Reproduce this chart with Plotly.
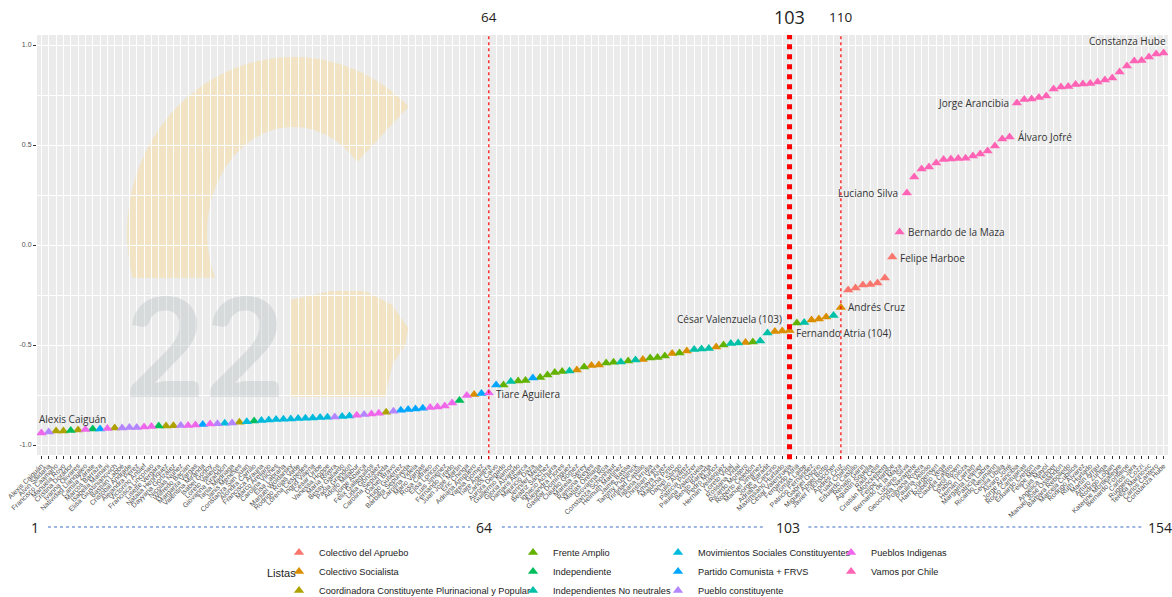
import math
import plotly.graph_objects as go

# ---------------- data ----------------
names = [
    "Alexis Caiguán", "Alvin Saldaña", "Francisco Caamaño", "Manuela Royo", "Cristina Dorador",
    "Ivanna Olivares", "Natividad Llanquileo", "Camila Zárate", "Marcos Barraza", "Isabella Mamani",
    "Elisa Giustinianovich", "Bastián Labbé", "Cristóbal Andrade", "Alejandra Pérez", "Victorino Antilef",
    "Francisca Linconao", "Lisette Vergara", "Natalia Henríquez", "Dayyana González", "Nicolás Núñez",
    "Wilfredo Bacian", "Margarita Vargas", "Valentina Miranda", "Isabel Godoy", "Loreto Vallejos",
    "Giovanna Grandón", "Tania Madriaga", "Janis Meneses", "Constanza San Juan", "Alondra Carrillo",
    "Francisca Arauna", "Marco Arellano", "Carolina Vilches", "Elsa Labraña", "Manuel Woldarsky",
    "Rodrigo Rojas Vade", "Lorena Céspedes", "Ingrid Villena", "César Uribe", "Vanessa Hoppe",
    "María Rivera", "Bessy Gallardo", "Paola Grandón", "Adolfo Millabur", "Jorge Abarca",
    "Félix Galleguillos", "Lidia González", "Carolina Sepúlveda", "Daniel Bravo", "Hugo Gutiérrez",
    "Bárbara Sepúlveda", "Carolina Videla", "Mario Vargas", "Rosa Catrileo", "Elisa Loncon",
    "Luis Jiménez", "Fernando Tirado", "Juan José Martin", "Eric Chinga", "Adriana Ampuero",
    "Yarela Gómez", "Tiare Aguilera",
    "Carlos Calvo", "Aurora Delgado", "Guillermo Namor", "Gloria Alvarado", "Damaris Abarca",
    "Mauricio Daza", "Jennifer Mella", "Beatriz Sánchez", "Ignacio Achurra", "Alejandra Flores",
    "Gaspar Domínguez", "Claudio Gómez", "Mariela Serey", "Ramona Reyes", "Matías Orellana",
    "Giovanna Roa", "Constanza Schonhaut", "Helmuth Martínez", "Jaime Bassa", "Tammy Pustilnick",
    "Trinidad Castillo", "Tatiana Urrutia", "Christian Viera", "Amaya Alvez", "Malucha Pinto",
    "Daniel Stingo", "Julio Álvarez", "Patricia Politzer", "Paulina Valenzuela", "Benito Baranda",
    "Pedro Muñoz", "Hernán Velásquez", "Loreto Vidal", "Rossana Vidal", "Ricardo Montero",
    "Roberto Celedón", "Manuel Jiménez", "Jorge Baradit", "Adriana Cancino", "Maximiliano Hurtado",
    "César Valenzuela",
    "Fernando Atria", "Tomás Laibe", "Patricio Fernández", "Gabriel Osorio", "Miguel Ángel Botto",
    "Javier Fuchslocher", "Andrés Cruz", "Fuad Chahín", "Eduardo Castillo", "Renato Garín",
    "Agustín Squella", "Raúl Celis", "Cristián Monckeberg", "Felipe Harboe", "Bernardo de la Maza",
    "Luciano Silva", "Geoconda Navarrete", "Pollyana Rivera", "Paulina Veloso", "Harry Jürgensen",
    "Roberto Vega", "Claudia Castro", "Carol Bown", "Pablo Toloza", "Hernán Larraín",
    "Margarita Letelier", "Patricia Labra", "Ricardo Neumann", "Cecilia Ubilla", "Álvaro Jofré",
    "Jorge Arancibia", "Rocío Cantuarias", "Eduardo Cretton", "Felipe Mena", "Luis Mayol",
    "Angélica Tepper", "Manuel José Ossandón", "Bárbara Rebolledo", "Marcela Cubillos", "Rodrigo Álvarez",
    "Ruth Hurtado", "Martín Arrau", "Arturo Zúñiga", "Rodrigo Logan", "Katerine Montealegre",
    "Bernardo Fontaine", "Carlos Jara", "Ruggero Cozzi", "Teresa Marinovic", "Carlos Cantero",
    "Constanza Hube",
]

ideal_points = [
    -0.94, -0.935, -0.93, -0.93, -0.928, -0.925, -0.922, -0.92, -0.92, -0.918,
    -0.915, -0.915, -0.913, -0.912, -0.91, -0.908, -0.905, -0.905, -0.904, -0.903,
    -0.902, -0.9, -0.897, -0.895, -0.894, -0.891, -0.89, -0.886, -0.884, -0.88,
    -0.877, -0.875, -0.873, -0.871, -0.87, -0.868, -0.866, -0.865, -0.863, -0.861,
    -0.86, -0.857, -0.855, -0.851, -0.847, -0.845, -0.841, -0.836, -0.831, -0.826,
    -0.822, -0.82, -0.816, -0.812, -0.81, -0.805, -0.79, -0.778, -0.752, -0.748,
    -0.743, -0.74,
    -0.70, -0.70, -0.682, -0.68, -0.678, -0.665, -0.663, -0.65, -0.637, -0.632,
    -0.63, -0.625, -0.61, -0.602, -0.60, -0.59, -0.586, -0.585, -0.58, -0.575,
    -0.573, -0.565, -0.562, -0.555, -0.542, -0.54, -0.53, -0.522, -0.52, -0.517,
    -0.51, -0.50, -0.492, -0.49, -0.487, -0.485, -0.48, -0.44, -0.432, -0.43,
    -0.428,
    -0.39, -0.388, -0.375, -0.37, -0.36, -0.352, -0.312, -0.225, -0.215, -0.20,
    -0.198, -0.19, -0.165, -0.06, 0.065, 0.26, 0.34, 0.38, 0.39, 0.41,
    0.428, 0.43, 0.432, 0.434, 0.445, 0.455, 0.47, 0.495, 0.53, 0.54,
    0.71, 0.728, 0.73, 0.738, 0.745, 0.78, 0.79, 0.792, 0.803, 0.805,
    0.807, 0.815, 0.825, 0.835, 0.865, 0.895, 0.92, 0.922, 0.94, 0.955,
    0.96,
]

codes = (
    "M P O O G O M G B M  O P P P M M G O O P  M M B M P C P O C G  "
    "C C C C C C C C C C  P C C M P M M O P B  B B B M M M M G M S  B M  "
    "B F T F F B F F F F  T S F S S F F T F T  S F F F S F S T T T  S F T T S F T T S S  S  "
    "F T S S S T S A A A  A A A A V V V V V V  V V V V V V V V V V  V V V V V V V V V V  "
    "V V V V V V V V V V  V"
).split()

list_names = {
    "A": "Colectivo del Apruebo",
    "S": "Colectivo Socialista",
    "O": "Coordinadora Constituyente Plurinacional y Popular",
    "F": "Frente Amplio",
    "G": "Independiente",
    "T": "Independientes No neutrales",
    "C": "Movimientos Sociales Constituyentes",
    "B": "Partido Comunista + FRVS",
    "P": "Pueblo constituyente",
    "M": "Pueblos Indigenas",
    "V": "Vamos por Chile",
}
list_order = ["A", "S", "O", "F", "G", "T", "C", "B", "P", "M", "V"]
list_colors = ["#F8766D", "#DB8E00", "#AEA200", "#64B200", "#00BD5C", "#00C1A7",
               "#00BADE", "#00A6FF", "#B385FF", "#EF67EB", "#FF63B6"]
legend_columns = ["legend", "legend", "legend", "legend2", "legend2", "legend2",
                  "legend3", "legend3", "legend3", "legend4", "legend4"]

labelled = {  # index -> (text, xanchor, xshift, yshift)
    1: ("Alexis Caiguán", "left", -4, 14),
    62: ("Tiare Aguilera", "left", 5, -1),
    103: ("César Valenzuela (103)", "right", -6, 12),
    104: ("Fernando Atria (104)", "left", -3, -10),
    110: ("Andrés Cruz", "left", 5, 0),
    117: ("Felipe Harboe", "left", 6, -1),
    118: ("Bernardo de la Maza", "left", 6, 0),
    119: ("Luciano Silva", "right", -7, 0),
    133: ("Álvaro Jofré", "left", 6, 0),
    134: ("Jorge Arancibia", "right", -6, 0),
    154: ("Constanza Hube", "right", 4, 12),
}
cut_lines = [62, 103, 110]
cut_labels = ["64", "103", "110"]
bottom_labels = ["1", "64", "103", "154"]

n = len(names)
assert n == len(ideal_points) == len(codes), (n, len(ideal_points), len(codes))
xs = list(range(1, n + 1))

fig = go.Figure()
for code, col, leg in zip(list_order, list_colors, legend_columns):
    idx = [i for i in range(n) if codes[i] == code]
    fig.add_trace(go.Scatter(
        x=[xs[i] for i in idx], y=[ideal_points[i] for i in idx],
        mode="markers", name=list_names[code], legend=leg,
        marker=dict(symbol="triangle-up", size=9, color=col, line=dict(width=0)),
        text=[names[i] for i in idx], hoverinfo="text+y",
    ))

# ---- watermark (C22 logo), px -> data helpers ----
def dx(px):
    return 1 + (px - 41.4) / 7.33

def dy(py):
    return (245 - py) / 200

cx, cy = 293, 233
pts = []
for k in range(61):
    t = math.radians(45.9 + (194.8 - 45.9) * k / 60)
    pts.append((cx + 166 * math.cos(t), cy - 176 * math.sin(t)))
for k in range(61):
    t = math.radians(205 - (205 - 42) * k / 60)
    pts.append((cx + 86 * math.cos(t), cy - 106 * math.sin(t)))
path = "M " + " L ".join(f"{dx(a):.3f},{dy(b):.4f}" for a, b in pts) + " Z"
blob = [(290, 300), (330, 291), (365, 291), (392, 305), (408, 328), (405, 345),
        (392, 365), (385, 397), (290, 397)]
path2 = "M " + " L ".join(f"{dx(a):.3f},{dy(b):.4f}" for a, b in blob) + " Z"
for p in (path, path2):
    fig.add_shape(type="path", path=p, xref="x", yref="y", layer="below",
                  fillcolor="#F1E3C4", line=dict(width=0))

fig.add_annotation(x=dx(205), y=dy(343), xref="x", yref="y", text="<b>22</b>",
                   showarrow=False, font=dict(family="Lato", size=138, color="rgba(165,178,182,0.30)", weight=900),
                   xanchor="center", yanchor="middle")

# ---- vertical cut lines ----
for xv, lab in zip(cut_lines, cut_labels):
    thick = lab == "103"
    fig.add_shape(type="line", x0=xv, x1=xv, xref="x", yref="paper", y0=-0.01, y1=1,
                  line=dict(color="#FF0000", width=5 if thick else 1.2, dash="dot"))
    fig.add_annotation(x=xv, y=1.042, xref="x", yref="paper", text=lab, showarrow=False,
                       font=dict(family="Open Sans", size=18 if thick else 13.5, color="#222222"),
                       xanchor="center", yanchor="middle")

# ---- name labels ----
for i, (txt, xa, xsh, ysh) in labelled.items():
    fig.add_annotation(x=xs[i - 1], y=ideal_points[i - 1], xref="x", yref="y", text=txt,
                       showarrow=False, xanchor=xa, yanchor="middle", xshift=xsh, yshift=ysh,
                       font=dict(family="Open Sans", size=10, color="#333333"))

# ---- bottom ruler ----
bx = [-0.002, 0.395, 0.664, 0.993]
for xv, lab in zip(bx, bottom_labels):
    fig.add_annotation(x=xv, y=-0.1715, xref="paper", yref="paper", text=lab, showarrow=False,
                       font=dict(family="Open Sans", size=14, color="#222222"),
                       xanchor="center", yanchor="middle")
for a, b in [(0.0097, 0.383), (0.411, 0.644), (0.682, 0.978)]:
    fig.add_shape(type="line", xref="paper", yref="paper", x0=a, x1=b, y0=-0.1715, y1=-0.1715,
                  line=dict(color="#7F9FD8", width=1.5, dash="dot"))

fig.add_annotation(x=0.2165, y=-0.281, xref="paper", yref="paper", text="Listas", showarrow=False,
                   font=dict(family="Liberation Sans", size=11, color="#1A1A1A"),
                   xanchor="center", yanchor="middle")

legend_style = dict(font=dict(family="Liberation Sans", size=9.2, color="#1A1A1A"),
                    bgcolor="rgba(0,0,0,0)", orientation="v", yanchor="top", xanchor="left",
                    itemclick=False, itemdoubleclick=False)
leg_y = -0.1975
fig.update_layout(
    legend=dict(x=0.2140, y=leg_y, **legend_style),
    legend2=dict(x=0.4209, y=leg_y, **legend_style),
    legend3=dict(x=0.5491, y=leg_y, **legend_style),
    legend4=dict(x=0.7021, y=leg_y, **legend_style),
)

fig.update_layout(
    width=1172, height=597, autosize=False,
    margin=dict(l=37, r=4, t=35, b=142, autoexpand=False),
    paper_bgcolor="white", plot_bgcolor="#EBEBEB",
    showlegend=True,
    xaxis=dict(range=[0.4, n + 0.6], tickmode="array", tickvals=xs, ticktext=names,
               tickangle=-45, tickfont=dict(family="Liberation Sans", size=7, color="#4D4D4D"),
               showgrid=True, gridcolor="white", gridwidth=1, zeroline=False,
               ticks="outside", ticklen=3, tickcolor="#333333", tickwidth=1, showline=False,
               automargin=False),
    yaxis=dict(range=[-1.05, 1.05], tickvals=[-1, -0.5, 0, 0.5, 1],
               ticktext=["-1.0", "-0.5", "0.0", "0.5", "1.0"],
               tickfont=dict(family="Liberation Sans", size=7, color="#4D4D4D"),
               showgrid=True, gridcolor="white", gridwidth=1.1, zeroline=False,
               ticks="outside", ticklen=3, tickcolor="#333333", tickwidth=1,
               minor=dict(tickvals=[-0.75, -0.25, 0.25, 0.75], showgrid=True, gridcolor="white",
                          gridwidth=0.5, ticks=""),
               automargin=False),
)

fig.write_html("out.html",
               config={"displayModeBar": False, "responsive": False},
               post_script="document.body.style.margin='0';document.body.style.overflow='hidden';")
